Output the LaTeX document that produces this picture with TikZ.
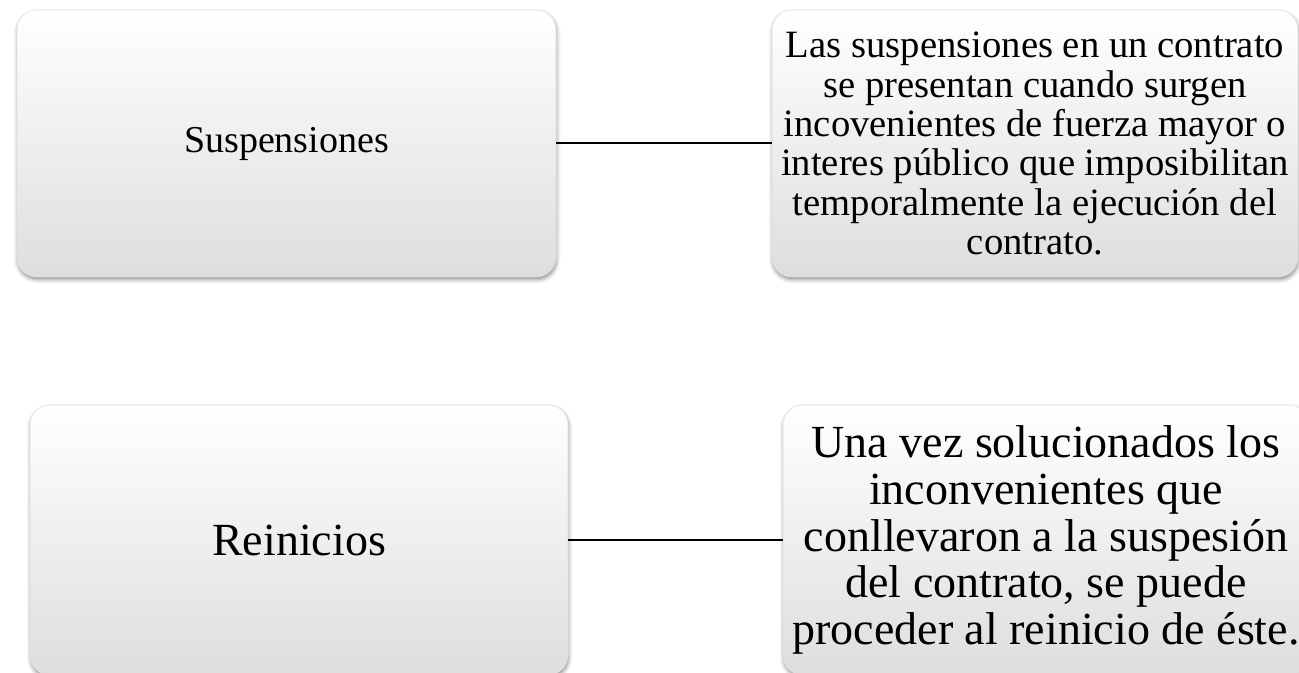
\documentclass[tikz,border=0pt]{standalone}
\usepackage{fontspec}
\setmainfont{Liberation Serif}
\usetikzlibrary{shadows.blur}
\begin{document}
\begin{tikzpicture}[x=0.75pt,y=-0.75pt,
  box/.style={rounded corners=15pt, top color=white, middle color=white, bottom color=black!13,
    draw=black!12, line width=0.4pt, inner sep=0pt, align=center, text=black,
    blur shadow={shadow xshift=0.5pt, shadow yshift=-2pt, shadow blur radius=3pt, shadow opacity=45}},
  conn/.style={draw=black, line width=1.5pt}]
\useasboundingbox (0,0) rectangle (1299,673);
\clip (0,0) rectangle (1299,673);
\node[box, minimum width=404.25pt, minimum height=200.25pt, font=\fontsize{28.5}{29}\selectfont] (s) at (286.5,143.5) {Suspensiones};
\node[box, minimum width=394.5pt, minimum height=200.25pt, font=\fontsize{29}{29.5}\selectfont] (sd) at (1035,143.5)
  {Las suspensiones en un contrato\\ se presentan cuando surgen\\ incovenientes de fuerza mayor o\\ interes público que imposibilitan\\ temporalmente la ejecución del\\ contrato.};
\node[box, minimum width=403.5pt, minimum height=202.5pt, font=\fontsize{34.5}{35}\selectfont] (r) at (299,540) {Reinicios};
\node[box, minimum width=394.5pt, minimum height=202.5pt, font=\fontsize{34.5}{35}\selectfont] (rd) at (1046,540)
  {Una vez solucionados los\\ inconvenientes que\\ conllevaron a la suspesión\\ del contrato, se puede\\ proceder al reinicio de éste.};
\draw[conn] (s.east) -- (sd.west);
\draw[conn] (r.east) -- (rd.west);
\end{tikzpicture}
\end{document}
